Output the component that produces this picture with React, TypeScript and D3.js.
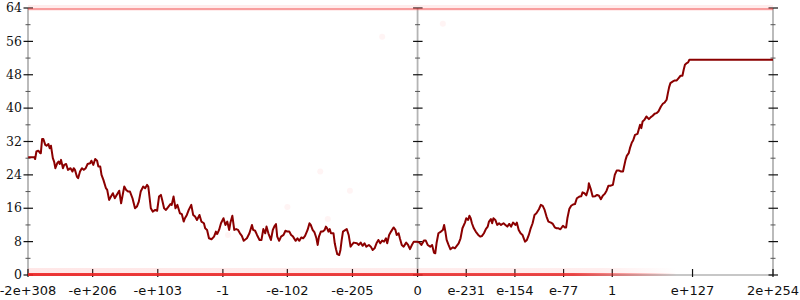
import React from "react";
import * as d3 from "d3";

// x is a "float order" coordinate: sign * (decimal exponent + 308)
const xDomain: [number, number] = [-616.3, 562.3];
const yDomain: [number, number] = [0, 64];

const xTickLabels = ["-2e+308", "-e+206", "-e+103", "-1", "-e-102", "-e-205", "0", "e-231", "e-154", "e-77", "1", "e+127", "2e+254"];
const xTickValues = [-616.3, -514, -411, -308, -206, -103, 0, 77, 154, 231, 308, 435, 562.3];
const yMajorTicks = [0, 8, 16, 24, 32, 40, 48, 56, 64];
const yMinorTicks = [4, 12, 20, 28, 36, 44, 52, 60];
const verticalAxes = [-616.3, 0, 562.3];

const seriesPoints: [number, number][] = [
  [-616, 28.2], [-606, 28.2], [-605, 27.8], [-603, 29.6], [-600, 29.8], [-597, 29.2], [-596, 29.2], [-594, 32.6], [-592, 32.6], [-589, 31.2],
  [-587, 31.0], [-584, 31.4], [-582, 30.4], [-580, 31.0], [-577, 28.0], [-575, 27.2], [-573, 25.6], [-570, 26.8], [-568, 27.2], [-566, 26.6],
  [-564, 27.6], [-561, 25.6], [-559, 26.4], [-556, 26.6], [-553, 25.2], [-549, 25.6], [-546, 24.8], [-544, 25.6], [-542, 25.2], [-539, 23.6],
  [-537, 23.2], [-534, 24.8], [-531, 25.6], [-528, 25.2], [-525, 25.6], [-522, 26.6], [-518, 26.8], [-516, 27.4], [-513, 26.4], [-510, 27.8],
  [-507, 27.4], [-505, 26.0], [-502, 26.0], [-500, 24.0], [-497, 22.8], [-493, 20.8], [-491, 20.4], [-488, 18.0], [-485, 18.8], [-482, 19.6],
  [-479, 18.4], [-476, 19.2], [-472, 20.2], [-469, 17.2], [-467, 18.8], [-464, 21.2], [-461, 20.4], [-458, 20.0], [-455, 20.0], [-451, 18.4],
  [-447, 16.0], [-444, 16.4], [-441, 17.6], [-438, 20.0], [-434, 21.2], [-431, 20.8], [-428, 21.6], [-426, 21.2], [-422, 16.0], [-419, 15.2],
  [-415, 15.6], [-412, 15.4], [-409, 18.8], [-406, 19.2], [-404, 18.0], [-401, 16.0], [-398, 15.6], [-394, 16.4], [-391, 17.0], [-389, 16.8],
  [-386, 18.8], [-383, 16.0], [-380, 16.8], [-376, 14.8], [-373, 14.6], [-370, 12.8], [-368, 13.6], [-365, 14.4], [-362, 15.6], [-358, 16.8],
  [-355, 14.4], [-352, 14.0], [-349, 13.2], [-347, 13.8], [-345, 14.4], [-342, 12.8], [-338, 12.4], [-336, 11.2],
  [-333, 10.8], [-330, 8.8], [-326, 8.56], [-322, 9.2], [-319, 10.4], [-317, 9.84], [-314, 10.8], [-311, 12.4], [-307, 13.6], [-304, 12.0],
  [-301, 12.8], [-298, 10.8], [-296, 12.6], [-293, 14.2], [-290, 10.8], [-287, 11.0], [-284, 10.8], [-281, 10.0], [-278, 9.4], [-275, 8.2],
  [-270, 8.8], [-266, 10.0], [-262, 12.0], [-260, 10.8], [-257, 10.6], [-254, 9.6], [-250, 8.4], [-247, 8.4], [-244, 11.0], [-241, 10.0],
  [-239, 11.6], [-236, 10.0], [-232, 8.4], [-229, 10.8], [-226, 11.8], [-224, 12.2], [-222, 9.2], [-219, 8.2], [-216, 9.2], [-212, 9.6],
  [-209, 10.6], [-206, 10.4], [-203, 10.4], [-200, 9.6], [-197, 9.2], [-193, 8.2], [-190, 8.8], [-187, 8.2], [-184, 9.0], [-181, 8.8],
  [-178, 9.4], [-174, 10.8], [-171, 12.4], [-169, 12.0], [-166, 10.8], [-163, 10.2], [-160, 8.8], [-158, 7.2], [-156, 9.2], [-153, 10.4],
  [-150, 10.4], [-147, 10.8], [-145, 11.6], [-143, 11.2], [-141, 10.4], [-139, 11.0], [-137, 10.0], [-133, 10.0], [-131, 7.6], [-129, 6.16],
  [-127, 5.0], [-124, 4.8], [-122, 6.0], [-120, 8.4], [-118, 10.4], [-114, 10.8], [-112, 11.0], [-109, 9.6], [-106, 6.8], [-104, 7.2],
  [-101, 7.76], [-96, 7.6], [-93, 7.2], [-90, 7.76], [-87, 7.0], [-84, 7.6], [-81, 6.8], [-77, 7.2], [-74, 6.8], [-71, 6.0],
  [-68, 6.4], [-65, 7.6], [-62, 8.4], [-59, 7.6], [-56, 8.24], [-53, 8.0], [-50, 8.8], [-48, 7.6], [-45, 9.6], [-42, 10.4],
  [-38, 11.4], [-35, 10.8], [-33, 9.6], [-30, 10.0], [-28, 8.8], [-25, 7.2], [-22, 6.8], [-18, 7.76], [-15, 7.2], [-12, 6.2],
  [-9, 7.2], [-6, 8.0], [-1, 8.0],
  [3, 7.76], [6, 7.2], [10, 8.24], [13, 8.24], [16, 7.2], [20, 6.8], [23, 7.2], [26, 5.36], [28, 5.2], [30, 7.6],
  [33, 10.0], [37, 10.4], [40, 10.8], [42, 12.0], [44, 10.4], [46, 8.4], [49, 7.2], [52, 6.16], [56, 6.64], [59, 6.4],
  [62, 7.0], [65, 7.6], [68, 8.8], [71, 11.2], [75, 12.56], [77, 13.6], [80, 13.2], [82, 14.2], [84, 13.6], [86, 12.4],
  [89, 11.2], [92, 10.4], [96, 9.6], [99, 9.2], [102, 9.36], [105, 10.0], [108, 11.0], [111, 11.6], [113, 12.8], [116, 13.4],
  [118, 12.4], [120, 13.6], [123, 13.2], [126, 12.0], [129, 12.4], [132, 12.0], [136, 12.4], [139, 12.0], [142, 11.6], [145, 12.24],
  [148, 11.6], [151, 12.56], [155, 12.0], [157, 12.56], [160, 10.8], [163, 10.0], [166, 9.6], [168, 8.8], [170, 8.0], [173, 8.4],
  [176, 9.6], [179, 11.2], [182, 12.4], [185, 14.4], [188, 14.8], [192, 15.76], [195, 16.8], [198, 16.56], [201, 15.6], [204, 14.0],
  [207, 12.8], [211, 12.56], [214, 12.24], [217, 11.44], [220, 11.2], [223, 11.2], [226, 10.96], [230, 11.8], [233, 11.4], [235, 11.4],
  [237, 13.6], [240, 15.8], [243, 16.6], [246, 16.9], [249, 17.0], [252, 18.4], [256, 18.8], [259, 18.9], [261, 19.8], [264, 19.6],
  [267, 19.1], [270, 20.6], [271, 22.0], [274, 20.6], [277, 18.8], [281, 18.9], [284, 19.2], [287, 19.0], [290, 18.16], [293, 19.0],
  [296, 19.44], [299, 20.2], [302, 21.4], [305, 21.4], [309, 21.6], [312, 24.0], [315, 25.04], [319, 25.04], [322, 24.8], [325, 24.8],
  [329, 27.6], [331, 28.56], [334, 29.2], [336, 30.4], [339, 31.76], [341, 32.24], [344, 33.6], [348, 33.84], [350, 34.96], [352, 36.0],
  [354, 35.2], [356, 36.8], [359, 37.2], [362, 38.0], [366, 37.36], [369, 37.84], [372, 38.16], [375, 38.64], [378, 38.8], [381, 39.2],
  [385, 40.4], [388, 41.04], [391, 41.36], [394, 42.0], [396, 43.6], [398, 45.04], [400, 46.0], [404, 46.4], [407, 46.64], [410, 46.64],
  [413, 47.2], [416, 47.76], [419, 47.76], [421, 49.2], [423, 50.4], [426, 50.8], [428, 50.96], [430, 51.6], [562.3, 51.6],
];

// faint samples: clipped bands at the limits and a few stray points
const topBandRange: [number, number] = [-616.3, 562.3];
const bottomBandRange: [number, number] = [-616.3, 410];
const strayPoints: [number, number][] = [
  [-154, 24.8], [-107, 20.2], [-206, 16.3], [-142, 13.4], [-300, 9.6], [40, 60.2], [-56, 57.1],
];

const W = 800;
const H = 300;

export default function App() {
  const x = d3.scaleLinear().domain(xDomain).range([28, 773]);
  const y = d3.scaleLinear().domain(yDomain).range([275, 8]);
  const line = d3
    .line<[number, number]>()
    .x((d) => x(d[0]))
    .y((d) => y(d[1]));

  const bx0 = x(bottomBandRange[0]);
  const bx1 = x(bottomBandRange[1]);

  return (
    <svg
      width={W}
      height={H}
      style={{ position: "absolute", left: 0, top: 0, display: "block", background: "#fff" }}
    >
      <defs>
        <linearGradient id="bottomFade" gradientUnits="userSpaceOnUse" x1={bx0} x2={bx1} y1={0} y2={0}>
          <stop offset="0" stopColor="#ee2222" stopOpacity={0.9} />
          <stop offset="0.84" stopColor="#ee2222" stopOpacity={0.8} />
          <stop offset="1" stopColor="#ee2222" stopOpacity={0} />
        </linearGradient>
        <linearGradient id="bottomFuzz" gradientUnits="userSpaceOnUse" x1={bx0} x2={bx1} y1={0} y2={0}>
          <stop offset="0" stopColor="#f55" stopOpacity={0.14} />
          <stop offset="0.88" stopColor="#f55" stopOpacity={0.1} />
          <stop offset="1" stopColor="#f55" stopOpacity={0} />
        </linearGradient>
      </defs>

      {/* x axis line */}
      <line x1={x(xDomain[0])} x2={x(xDomain[1])} y1={y(0)} y2={y(0)} stroke="#b4b4b4" strokeWidth={1.5} />

      {/* vertical axes with ticks */}
      {verticalAxes.map((a, i) => (
        <g key={"ax" + i}>
          <line x1={x(a)} x2={x(a)} y1={y(64)} y2={y(0)} stroke="#b4b4b4" strokeWidth={1.8} />
          {yMinorTicks.map((t) => (
            <line key={"mi" + t} x1={x(a) - 2.5} x2={x(a) + 2.5} y1={y(t)} y2={y(t)} stroke="#555" strokeWidth={1} />
          ))}
          {yMajorTicks.map((t) => (
            <line key={"ma" + t} x1={x(a) - 4.5} x2={x(a) + 5} y1={y(t)} y2={y(t)} stroke="#111" strokeWidth={1.2} />
          ))}
        </g>
      ))}

      {/* y labels */}
      {yMajorTicks.map((t) => (
        <text
          key={"yl" + t}
          x={x(xDomain[0]) - 6}
          y={y(t)}
          dy="0.33em"
          textAnchor="end"
          fontFamily="DejaVu Serif"
          fontSize={12.5}
          fill="#111"
        >
          {t}
        </text>
      ))}

      {/* x ticks and labels */}
      {xTickValues.map((v, i) => (
        <g key={"xt" + i}>
          <line x1={x(v)} x2={x(v)} y1={y(0) - 6} y2={y(0) + 2} stroke="#111" strokeWidth={1.2} />
          <text
            x={x(v)}
            y={294.5}
            textAnchor="middle"
            fontFamily="DejaVu Sans"
            fontSize={13}
            fill="#111"
          >
            {xTickLabels[i]}
          </text>
        </g>
      ))}

      {/* clipped sample bands */}
      <line x1={x(topBandRange[0])} x2={x(topBandRange[1])} y1={y(64)} y2={y(64)} stroke="#f66" strokeOpacity={0.12} strokeWidth={6} />
      <line x1={x(topBandRange[0])} x2={x(topBandRange[1])} y1={y(64) + 1} y2={y(64) + 1} stroke="#e33" strokeOpacity={0.42} strokeWidth={2.2} />
      <line x1={bx0} x2={bx1} y1={y(0) - 4} y2={y(0) - 4} stroke="url(#bottomFuzz)" strokeWidth={6} />
      <line x1={bx0} x2={bx1} y1={y(0) - 0.5} y2={y(0) - 0.5} stroke="url(#bottomFade)" strokeWidth={3} />
      {strayPoints.map((p, i) => (
        <circle key={"sp" + i} cx={x(p[0])} cy={y(p[1])} r={3} fill="#f66" fillOpacity={0.07} />
      ))}

      {/* series line */}
      <path d={line(seriesPoints) || ""} fill="none" stroke="#8b0000" strokeWidth={2} strokeLinejoin="round" />
    </svg>
  );
}
